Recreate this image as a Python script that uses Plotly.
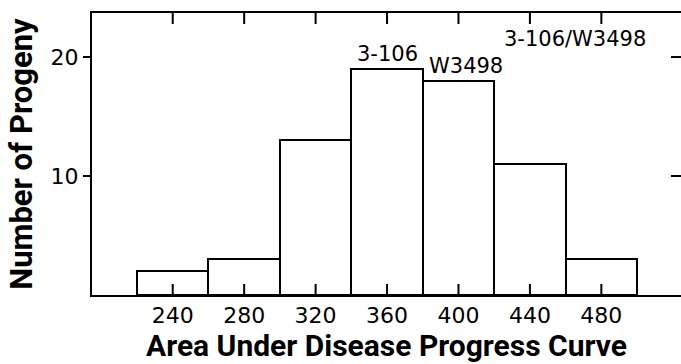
import plotly.graph_objects as go

# Data
auc_bins = [240, 280, 320, 360, 400, 440, 480]
progeny = [2, 3, 13, 19, 18, 11, 3]
bin_width = 40
y_ticks = [10, 20]
x_ticks = [240, 280, 320, 360, 400, 440, 480]

FONT = "DejaVu Sans"
TITLE_FONT = "Roboto"
X_RANGE = [194.8, 524.6]
Y_RANGE = [0, 23.7]

fig = go.Figure()
fig.add_trace(go.Bar(
    x=auc_bins, y=progeny, width=[bin_width] * len(auc_bins),
    marker=dict(color="white", line=dict(color="black", width=2)),
    showlegend=False,
))

fig.update_layout(
    width=681, height=364,
    margin=dict(l=92, r=0, t=13, b=69),
    paper_bgcolor="white", plot_bgcolor="white",
    font=dict(family=FONT, color="black"),
    xaxis=dict(
        range=X_RANGE, tickvals=x_ticks, ticktext=[str(v) for v in x_ticks],
        ticks="", showline=True, linewidth=2, linecolor="black", mirror=True,
        showgrid=False, zeroline=False,
        tickfont=dict(size=22, family=FONT),
        title=dict(text="Area Under Disease Progress Curve",
                   font=dict(size=30, family=TITLE_FONT, weight="bold"), standoff=5),
    ),
    yaxis=dict(
        range=Y_RANGE, tickvals=y_ticks, ticktext=[str(v) for v in y_ticks],
        ticks="outside", ticklen=7, tickwidth=2, tickcolor="black",
        showline=True, linewidth=2, linecolor="black",
        showgrid=False, zeroline=False,
        tickfont=dict(size=22, family=FONT),
        title=dict(text="Number of Progeny",
                   font=dict(size=31, family=TITLE_FONT, weight="bold"), standoff=9),
    ),
    bargap=0,
)

# inward tick marks: bottom and top edges at each x tick, right edge at each y tick
TICK_FRAC_Y = 11 / 282
for v in x_ticks:
    fig.add_shape(type="line", xref="x", yref="paper", x0=v, x1=v, y0=0, y1=TICK_FRAC_Y,
                  line=dict(color="black", width=2))
    fig.add_shape(type="line", xref="x", yref="paper", x0=v, x1=v, y0=1 - TICK_FRAC_Y, y1=1,
                  line=dict(color="black", width=2))
for v in y_ticks:
    fig.add_shape(type="line", xref="paper", yref="y", x0=0.983, x1=1.0, y0=v, y1=v,
                  line=dict(color="black", width=2))

fig.add_annotation(x=360, y=19, text="3-106", showarrow=False,
                   yanchor="bottom", yshift=1, font=dict(size=21, family=FONT))
fig.add_annotation(x=400, y=18, text="W3498", showarrow=False,
                   yanchor="bottom", xshift=8, yshift=1, font=dict(size=21, family=FONT))
fig.add_annotation(x=465, y=21.55, text="3-106/W3498", showarrow=False,
                   yanchor="middle", font=dict(size=21, family=FONT))

fig.write_html(
    "out.html",
    config={"displayModeBar": False},
    post_script="document.body.style.margin='0';document.body.style.overflow='hidden';",
)
